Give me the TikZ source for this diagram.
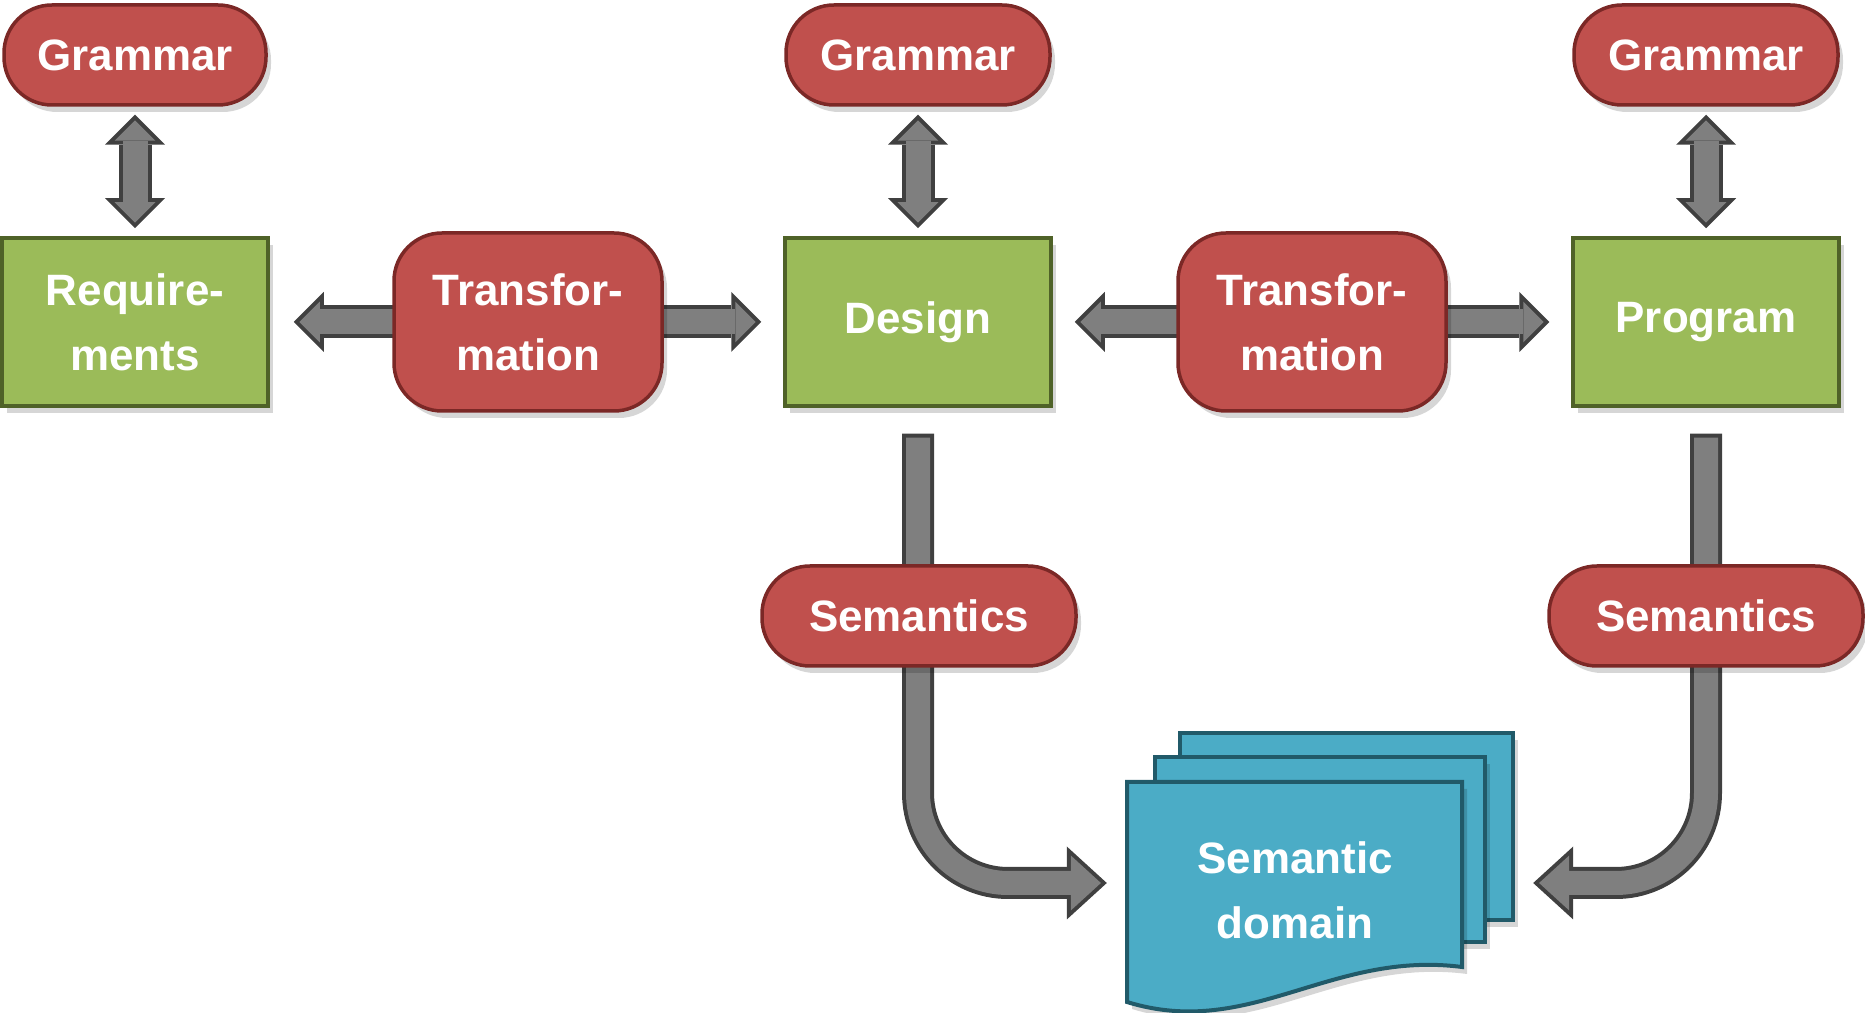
\documentclass[tikz,border=0pt]{standalone}
\usepackage{fontspec}
\setmainfont{Liberation Sans}
\usetikzlibrary{arrows.meta,calc,shadows,backgrounds}
\definecolor{boxred}{HTML}{C0504D}
\definecolor{boxredline}{HTML}{7B2826}
\definecolor{boxgreen}{HTML}{9BBB59}
\definecolor{boxgreenline}{HTML}{4F6228}
\definecolor{docblue}{HTML}{4BACC6}
\definecolor{docblueline}{HTML}{215A69}
\definecolor{arrgray}{HTML}{7F7F7F}
\definecolor{arrdark}{HTML}{404040}
\tikzset{
  outtip/.tip={Triangle[length=3mm,width=6mm,line width=0pt]},
  intip/.tip={Triangle[length=2.03mm,width=4.06mm,line width=0pt]},
  bendout/.tip={Triangle[length=4mm,width=7.3mm,line width=0pt]},
  bendin/.tip={Triangle[length=3.01mm,width=5.5mm,line width=0pt]},
  fatarrow/.style={draw=arrgray, line width=2.5mm, shorten >=0.57mm, -intip,
    preaction={draw=arrdark, line width=3.3mm, shorten >=0pt, -outtip}},
  fatboth/.style={draw=arrgray, line width=2.5mm, shorten >=0.57mm, shorten <=0.57mm, intip-intip,
    preaction={draw=arrdark, line width=3.3mm, shorten >=0pt, shorten <=0pt, outtip-outtip}},
  bendarrow/.style={draw=arrgray, line width=2.4mm, rounded corners=9mm,
    shorten >=0.59mm, shorten <=0.4mm, -bendin,
    preaction={draw=arrdark, line width=3.2mm, shorten >=0pt, shorten <=0pt, -bendout}},
  softshadow/.style={drop shadow={shadow xshift=0.5mm, shadow yshift=-0.7mm, opacity=0.16, fill=black}},
  label/.style={text=white, font=\bfseries\fontsize{12.5}{18.5}\selectfont, align=center},
  redbox/.style={rectangle, rounded corners=4.8mm, fill=boxred, draw=boxredline,
    line width=0.35mm, label, softshadow},
  greenbox/.style={rectangle, fill=boxgreen, draw=boxgreenline, line width=0.35mm,
    minimum width=26.6mm, minimum height=16.8mm, label, softshadow},
  docpage/.style={fill=docblue, draw=docblueline, line width=0.4mm, softshadow},
}

\begin{document}
\begin{tikzpicture}[x=0.1mm, y=-0.1mm]
  \useasboundingbox (0,0) rectangle (1865,1013);
  % grammars
  \node[redbox, minimum width=26.2mm, minimum height=10mm] (gram1) at (135,55) {Grammar};
  \node[redbox, minimum width=26.4mm, minimum height=10mm] (gram2) at (918,55) {Grammar};
  \node[redbox, minimum width=26.4mm, minimum height=10mm] (gram3) at (1706,55) {Grammar};
  % models
  \node[greenbox] (req) at (135,322) {Require-\\ments};
  \node[greenbox] (design) at (918,322) {Design};
  \node[greenbox] (prog) at (1706,322) {Program};
  % transformations
  \node[redbox, minimum width=26.8mm, minimum height=17.8mm] (trans1) at (528,322) {Transfor-\\mation};
  \node[redbox, minimum width=26.8mm, minimum height=17.8mm] (trans2) at (1312,322) {Transfor-\\mation};
  % semantics
  \node[redbox, minimum width=31.4mm, minimum height=10mm] (sem1) at (919,616) {Semantics};
  \node[redbox, minimum width=31.4mm, minimum height=10mm] (sem2) at (1706,616) {Semantics};
  % semantic domain (stack of pages)
  \draw[docpage] (1180,733) rectangle (1513,920);
  \draw[docpage] (1155,757) rectangle (1485,942);
  \draw[docpage] (1127,782) -- (1462,782) -- (1462,967)
    .. controls (1330,950) and (1250,1040) .. (1127,1002) -- cycle;
  \node[label, minimum width=33.5mm] (dom) at (1295,890) {Semantic\\domain};
  \begin{scope}[on background layer]
    % grammar links
    \draw[fatboth] ($(gram1.south)+(0,8)$) -- ($(req.north)+(0,-8)$);
    \draw[fatboth] ($(gram2.south)+(0,8)$) -- ($(design.north)+(0,-8)$);
    \draw[fatboth] ($(gram3.south)+(0,8)$) -- ($(prog.north)+(0,-8)$);
    % transformation arrows
    \draw[fatarrow] (trans1.center) -- ($(req.east)+(24,0)$);
    \draw[fatarrow] (trans1.center) -- ($(design.west)+(-22,0)$);
    \draw[fatarrow] (trans2.center) -- ($(design.east)+(22,0)$);
    \draw[fatarrow] (trans2.center) -- ($(prog.west)+(-22,0)$);
    % semantics arrows
    \draw[bendarrow] ($(design.south)+(0,26)$) |- ($(dom.west)+(-20,-7)$);
    \draw[bendarrow] ($(prog.south)+(0,26)$) |- ($(dom.east)+(70,-7)$);
  \end{scope}
\end{tikzpicture}
\end{document}
